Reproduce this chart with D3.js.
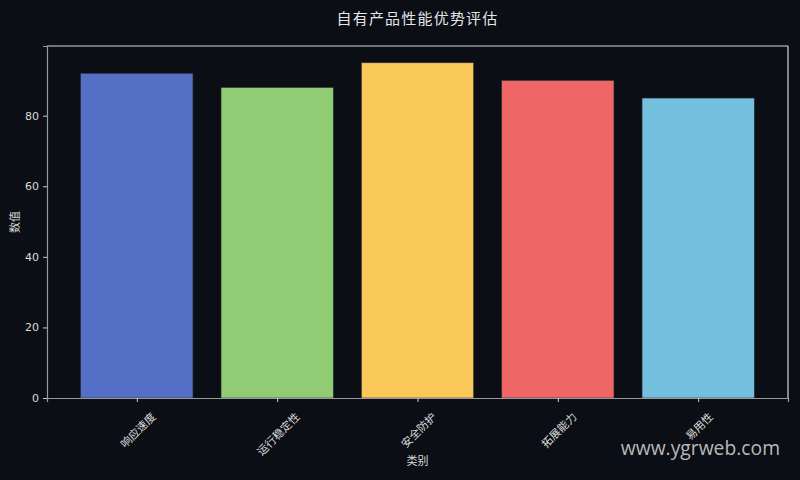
<!DOCTYPE html>
<html>
<head>
<meta charset="utf-8">
<script src="https://cdn.jsdelivr.net/npm/d3@7/dist/d3.min.js"></script>
<style>
  html, body { margin: 0; padding: 0; background: #0b0e14; }
  svg text { font-family: "DejaVu Sans", "Noto Sans CJK SC", sans-serif; }
</style>
</head>
<body>
<div id="chart"></div>
<script>
// data
var categories = ["响应速度", "运行稳定性", "安全防护", "拓展能力", "易用性"];
var values = [92, 88, 95, 90, 85];
var barColors = ["#5470c6", "#91cc75", "#fac858", "#ee6666", "#73c0de"];
var yTicks = [0, 20, 40, 60, 80];

var W = 800, H = 480;
var margin = { top: 46, right: 12, bottom: 82, left: 47 },
    width = W - margin.left - margin.right,
    height = H - margin.top - margin.bottom;

var svg = d3.select("#chart")
    .append("svg")
    .attr("width", W)
    .attr("height", H);

svg.append("rect").attr("width", W).attr("height", H).attr("fill", "#0b0e14");

var g = svg.append("g")
    .attr("transform", "translate(" + margin.left + "," + margin.top + ")");

// matplotlib-like x range: bars of width 0.8 with 5% margins
var x = d3.scaleLinear().domain([-0.64, categories.length - 1 + 0.64]).range([0, width]);
var y = d3.scaleLinear().domain([0, d3.max(values) * 1.05]).range([height, 0]);

g.selectAll(".bar")
    .data(values)
    .enter()
    .append("rect")
    .attr("class", "bar")
    .attr("x", function(d, i) { return x(i - 0.4); })
    .attr("y", function(d) { return y(d); })
    .attr("width", function(d, i) { return x(i + 0.4) - x(i - 0.4); })
    .attr("height", function(d) { return height - y(d); })
    .attr("fill", function(d, i) { return barColors[i]; })
    .attr("stroke", "#2a2f38")
    .attr("stroke-width", 0.6);

// frame
g.append("line").attr("x1", 0).attr("x2", width).attr("y1", 0).attr("y2", 0)
    .attr("stroke", "#d8d8d8").attr("stroke-width", 1.2);
g.append("line").attr("x1", width).attr("x2", width).attr("y1", 0).attr("y2", height)
    .attr("stroke", "#d8d8d8").attr("stroke-width", 1.2);

// y axis
var yAxis = g.append("g")
    .call(d3.axisLeft(y).tickValues(yTicks).tickSize(4).tickPadding(4));
yAxis.select(".domain").attr("stroke", "#9a9a9a").attr("stroke-width", 1.2);
yAxis.selectAll(".tick line").attr("stroke", "#cfcfcf");
yAxis.selectAll(".tick text").attr("fill", "#dcdcdc").style("font-size", "11px");

// x axis
var xAxis = g.append("g")
    .attr("transform", "translate(0," + height + ")")
    .call(d3.axisBottom(x).tickValues(d3.range(categories.length)).tickSize(4)
        .tickFormat(function(i) { return categories[i]; }));
xAxis.select(".domain").attr("stroke", "#9a9a9a").attr("stroke-width", 1.2);
xAxis.selectAll(".tick line").attr("stroke", "#cfcfcf");
xAxis.selectAll(".tick text")
    .attr("fill", "#dcdcdc")
    .style("font-size", "11px")
    .style("font-family", "'Noto Sans CJK SC', sans-serif")
    .attr("text-anchor", "middle")
    .attr("dominant-baseline", "central")
    .attr("dy", null)
    .attr("x", 0)
    .attr("y", function(i) { return 12 + (categories[i].length * 11 + 11) * 0.707 / 2; })
    .attr("transform", function(i) {
        var cy = 12 + (categories[i].length * 11 + 11) * 0.707 / 2;
        return "rotate(-45,0," + cy + ")";
    });

// title and axis labels
svg.append("text")
    .attr("x", margin.left + width / 2)
    .attr("y", 24)
    .attr("text-anchor", "middle")
    .attr("fill", "#e6e6e6")
    .style("font-size", "15px")
    .style("font-family", "'Noto Sans CJK SC', sans-serif")
    .style("letter-spacing", "1.2px")
    .text("自有产品性能优势评估");

svg.append("text")
    .attr("x", margin.left + width / 2)
    .attr("y", 465)
    .attr("text-anchor", "middle")
    .attr("fill", "#dcdcdc")
    .style("font-size", "11px")
    .style("font-family", "'Noto Sans CJK SC', sans-serif")
    .text("类别");

svg.append("text")
    .attr("transform", "translate(19," + (margin.top + height / 2) + ") rotate(-90)")
    .attr("text-anchor", "middle")
    .attr("fill", "#dcdcdc")
    .style("font-size", "11px")
    .style("font-family", "'Noto Sans CJK SC', sans-serif")
    .text("数值");

// watermark
svg.append("text")
    .attr("x", 780)
    .attr("y", 455)
    .attr("text-anchor", "end")
    .attr("fill", "#d0d0d0")
    .attr("fill-opacity", 0.9)
    .style("font-size", "19.3px")
    .style("font-family", "'Open Sans', sans-serif")
    .text("www.ygrweb.com");
</script>
</body>
</html>
